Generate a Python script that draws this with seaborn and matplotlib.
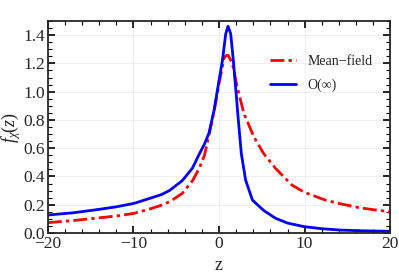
import numpy as np
import pandas as pd
import matplotlib
matplotlib.use('Agg')
import matplotlib.pyplot as plt
import seaborn as sns
from matplotlib.ticker import MultipleLocator, FormatStrFormatter

# Values
z_on = [-20, -17, -14.5, -12, -9.9, -8.1, -6.8, -5.8, -4.3, -3.1, -2.3, -1.7, -1.16,
        -0.58, 0, 0.39, 0.78, 1.05, 1.36, 1.67, 1.94, 2.25, 2.6, 3.1, 3.9, 5.2,
        6.6, 8, 9.9, 12, 14.3, 17, 20]
f_on = [0.127, 0.143, 0.163, 0.185, 0.21, 0.245, 0.27, 0.30, 0.37, 0.46, 0.56, 0.63, 0.71,
        0.87, 1.08, 1.22, 1.41, 1.463, 1.41, 1.22, 1.03, 0.80, 0.563, 0.375, 0.233, 0.16,
        0.104, 0.07, 0.045, 0.03, 0.02, 0.015, 0.012]

z_mf = [-20, -17, -14.5, -12, -9.9, -8.1, -6.8, -5.8, -4.3, -3.1, -2.3, -1.7, -1.16,
        -0.58, 0, 0.58, 0.8, 1.05, 1.55, 2.13, 2.9, 4.07, 5.2, 6.6, 8.5, 9.9, 12.4,
        14.3, 16.3, 18, 20]
f_mf = [0.073, 0.088, 0.104, 0.12, 0.139, 0.17, 0.195, 0.22, 0.28, 0.37, 0.46, 0.55, 0.70,
        0.86, 1.06, 1.235, 1.255, 1.258, 1.2, 1.03, 0.846, 0.68, 0.563, 0.457, 0.34, 0.29,
        0.233, 0.205, 0.18, 0.165, 0.15]

sns.set_style('ticks')
plt.rcParams['font.family'] = ['Liberation Serif', 'DejaVu Serif']
plt.rcParams['mathtext.fontset'] = 'custom'
plt.rcParams['mathtext.it'] = 'Liberation Serif:italic'
plt.rcParams['mathtext.rm'] = 'Liberation Serif'

fig = plt.figure(figsize=(3.99, 2.77), dpi=100)
ax = fig.add_axes([0.12, 0.159, 0.858, 0.765])

mf = pd.DataFrame({'z': z_mf, 'f': f_mf})
on = pd.DataFrame({'z': z_on, 'f': f_on})
sns.lineplot(data=mf, x='z', y='f', ax=ax, color='#ff0000', lw=2,
             linestyle=(0, (5, 1.5, 1.2, 1.5)), label='Mean\u2212field')
sns.lineplot(data=on, x='z', y='f', ax=ax, color='#0000ff', lw=2, label='O(\u221e)')

ax.set_xlim(-20, 20)
ax.set_ylim(0, 1.5)
ax.xaxis.set_major_locator(MultipleLocator(10))
ax.xaxis.set_minor_locator(MultipleLocator(2))
ax.yaxis.set_major_locator(MultipleLocator(0.2))
ax.yaxis.set_minor_locator(MultipleLocator(0.05))
ax.yaxis.set_major_formatter(FormatStrFormatter('%.1f'))
ax.tick_params(which='both', direction='in', top=True, right=True, labelsize=12.5,
               color='black', pad=2)
ax.tick_params(which='major', length=5, width=1.2)
ax.tick_params(which='minor', length=3, width=0.8)
for s in ax.spines.values():
    s.set_linewidth(1.3)
ax.grid(True, which='major', color='#eeeeee', lw=0.6)

ax.set_xlabel('z', fontsize=13, labelpad=4)
ax.set_ylabel(r'$f_{\chi}(z)$', fontsize=13, labelpad=0)

ax.legend(loc='upper right', bbox_to_anchor=(0.985, 0.9), frameon=False,
          fontsize=10, handlelength=1.9, labelspacing=0.75)

fig.savefig('out.png', dpi=100)
